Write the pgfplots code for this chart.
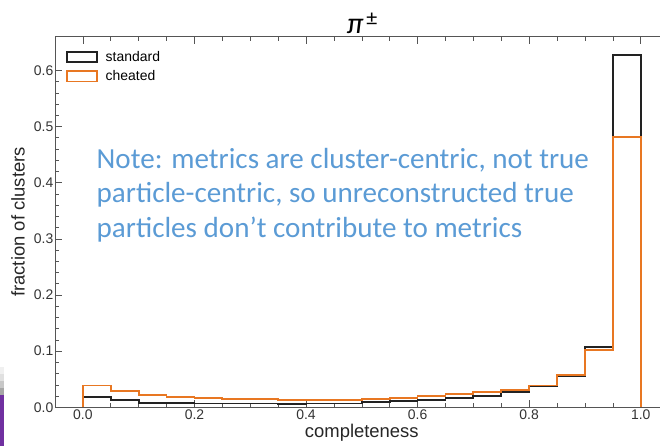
\documentclass[border=0pt]{standalone}
\usepackage{pgfplots}
\pgfplotsset{compat=1.18}
\usepackage{fontspec}
\setmainfont{Liberation Sans}
\newfontfamily\notefont{Carlito}

\definecolor{stdcol}{HTML}{222222}
\definecolor{cheatcol}{HTML}{E87722}
\definecolor{notecol}{HTML}{5B9BD5}
\definecolor{axcol}{HTML}{555555}
\definecolor{slidepurple}{HTML}{7030A0}

% completeness histograms, 20 bins of width 0.05 (lower bin edge, fraction)
\pgfplotstableread{
x     y
0.00  0
0.00  0.019
0.05  0.0124
0.10  0.0083
0.15  0.0071
0.20  0.0066
0.25  0.0066
0.30  0.0066
0.35  0.0062
0.40  0.0066
0.45  0.0066
0.50  0.0089
0.55  0.0112
0.60  0.0136
0.65  0.0166
0.70  0.0207
0.75  0.0266
0.80  0.0373
0.85  0.0556
0.90  0.107
0.95  0.627
1.00  0.627
1.00  0
}\standard
\pgfplotstableread{
x     y
0.00  0
0.00  0.039
0.05  0.0296
0.10  0.0225
0.15  0.0178
0.20  0.0160
0.25  0.0154
0.30  0.0148
0.35  0.0136
0.40  0.0130
0.45  0.0124
0.50  0.0148
0.55  0.0166
0.60  0.0195
0.65  0.0230
0.70  0.0266
0.75  0.0308
0.80  0.0390
0.85  0.0574
0.90  0.102
0.95  0.4815
1.00  0.4815
1.00  0
}\cheated

\begin{document}
\begin{tikzpicture}
\useasboundingbox (0bp,0bp) rectangle (660bp,446bp);
% slide edge
\fill[slidepurple] (0bp,0bp) rectangle (4bp,51bp);
\fill[black!35] (0bp,51bp) rectangle (4bp,58bp);
\fill[black!22] (0bp,58bp) rectangle (4bp,65bp);
\fill[black!12] (0bp,65bp) rectangle (4bp,72bp);
\fill[black!6] (0bp,72bp) rectangle (4bp,79bp);
\begin{axis}[
  at={(55bp,38.7bp)}, anchor=south west,
  scale only axis,
  width=613.6bp, height=370.6bp,
  xmin=-0.05, xmax=1.05,
  ymin=0, ymax=0.66,
  xtick={0,0.2,0.4,0.6,0.8,1.0},
  ytick={0,0.1,0.2,0.3,0.4,0.5,0.6},
  minor x tick num=3,
  minor y tick num=4,
  tick align=inside,
  major tick length=7bp,
  minor tick length=4bp,
  axis line style={axcol, line width=0.8bp},
  every tick/.style={axcol, line width=0.6bp},
  /pgf/number format/assume math mode=true,
  /pgf/number format/fixed,
  /pgf/number format/fixed zerofill,
  /pgf/number format/precision=1,
  tick label style={font=\fontsize{14}{16}\selectfont, text=black!80},
  yticklabel style={inner sep=1.5bp},
  xticklabel style={inner sep=2bp},
  xlabel={completeness},
  ylabel={fraction of clusters},
  label style={font=\fontsize{18.5}{21}\selectfont, text=black!85},
  xlabel style={yshift=1bp},
  ylabel style={yshift=4bp},
  legend style={
    at={(0.0125,0.972)}, anchor=north west,
    draw=none, fill=none,
    font=\fontsize{14}{16}\selectfont,
    row sep=3.5bp,
    legend cell align=left,
  },
  legend image code/.code={%
    \draw[#1] (0bp,-5.3bp) rectangle (30bp,5.3bp);
    \path[draw=none, fill=none] (0bp,0bp) rectangle (37bp,0.1bp);
  },
]
\addplot[const plot, stdcol, line width=1.8bp] table[x=x,y=y] {\standard};
\addlegendentry{standard}
\addplot[const plot, cheatcol, line width=1.8bp] table[x=x,y=y] {\cheated};
\addlegendentry{cheated}
\end{axis}
% title
\node[anchor=base] at (362bp,412bp) {\notefont\fontsize{30}{32}\selectfont\itshape π\kern3bp\raisebox{8bp}{\upshape\fontsize{22}{24}\selectfont ±}};
% note
\node[anchor=north west, align=left, inner sep=0pt, text=notecol,
      font=\notefont\fontsize{29.2}{34.5}\selectfont] at (96.5bp,298bp)
  {Note: metrics are cluster-centric, not true\\
   particle-centric, so unreconstructed true\\
   particles don’t contribute to metrics};
\end{tikzpicture}
\end{document}
